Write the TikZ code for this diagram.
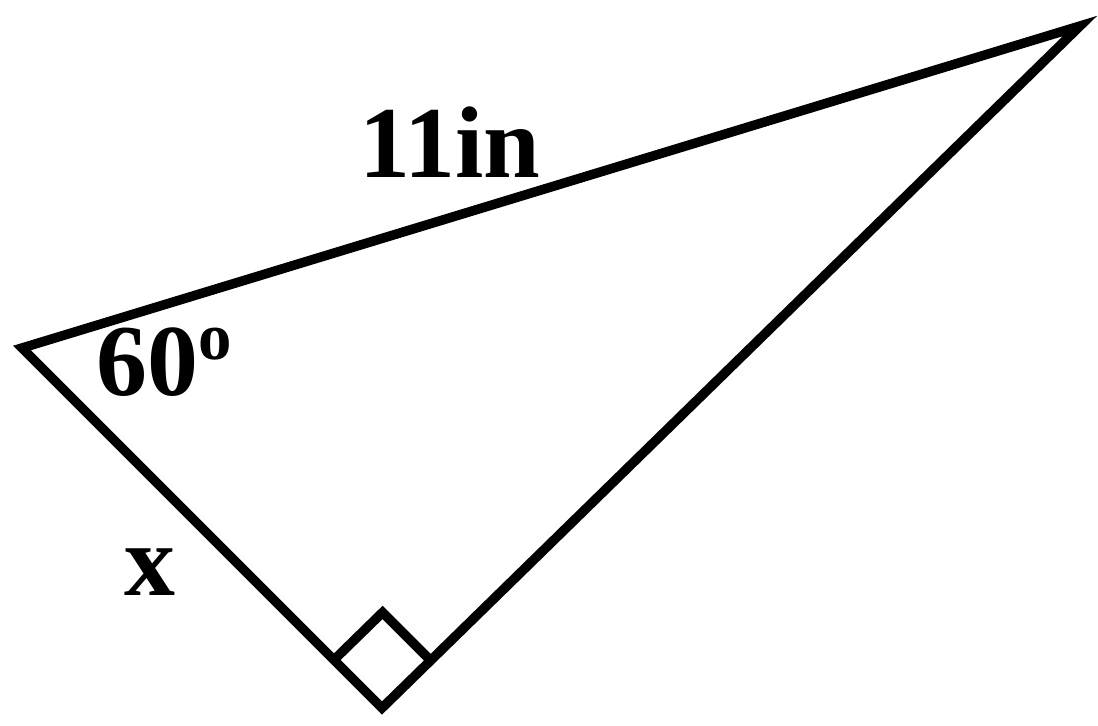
\documentclass[tikz,border=0pt]{standalone}
\usepackage{fontspec}
\setmainfont{Liberation Serif}
\usepackage{tikz}
\usetikzlibrary{calc, positioning}

\begin{document}
\begin{tikzpicture}[
    x=0.02cm, y=-0.02cm,
    side/.style={
        draw=black,
        line width=5.4pt,
        line join=miter
    },
    lbl/.style={
        inner sep=0pt,
        anchor=base west,
        font=\bfseries\fontsize{58}{70}\selectfont
    }
]
\useasboundingbox (0,0) rectangle (1098,726);

% Vertices
\coordinate (left)   at (22,348);
\coordinate (top)    at (1080,26);
\coordinate (bottom) at (382,708);

% Triangle
\draw[side] (left) -- (top) -- (bottom) -- cycle;

% Right angle marker
\coordinate (ra) at ($(bottom)!1.36cm!(left)$);
\coordinate (rb) at ($(bottom)!1.36cm!(top)$);
\draw[side] (ra) -- ($(ra)+(rb)-(bottom)$) -- (rb);

% Labels
\node[lbl] (hyp)   at (359,178) {11in};
\node[lbl] (angle) at (96,395)  {60\raisebox{20pt}{\fontsize{38}{38}\selectfont o}};
\node[lbl] (leg)   at (124,595) {x};

\end{tikzpicture}
\end{document}
